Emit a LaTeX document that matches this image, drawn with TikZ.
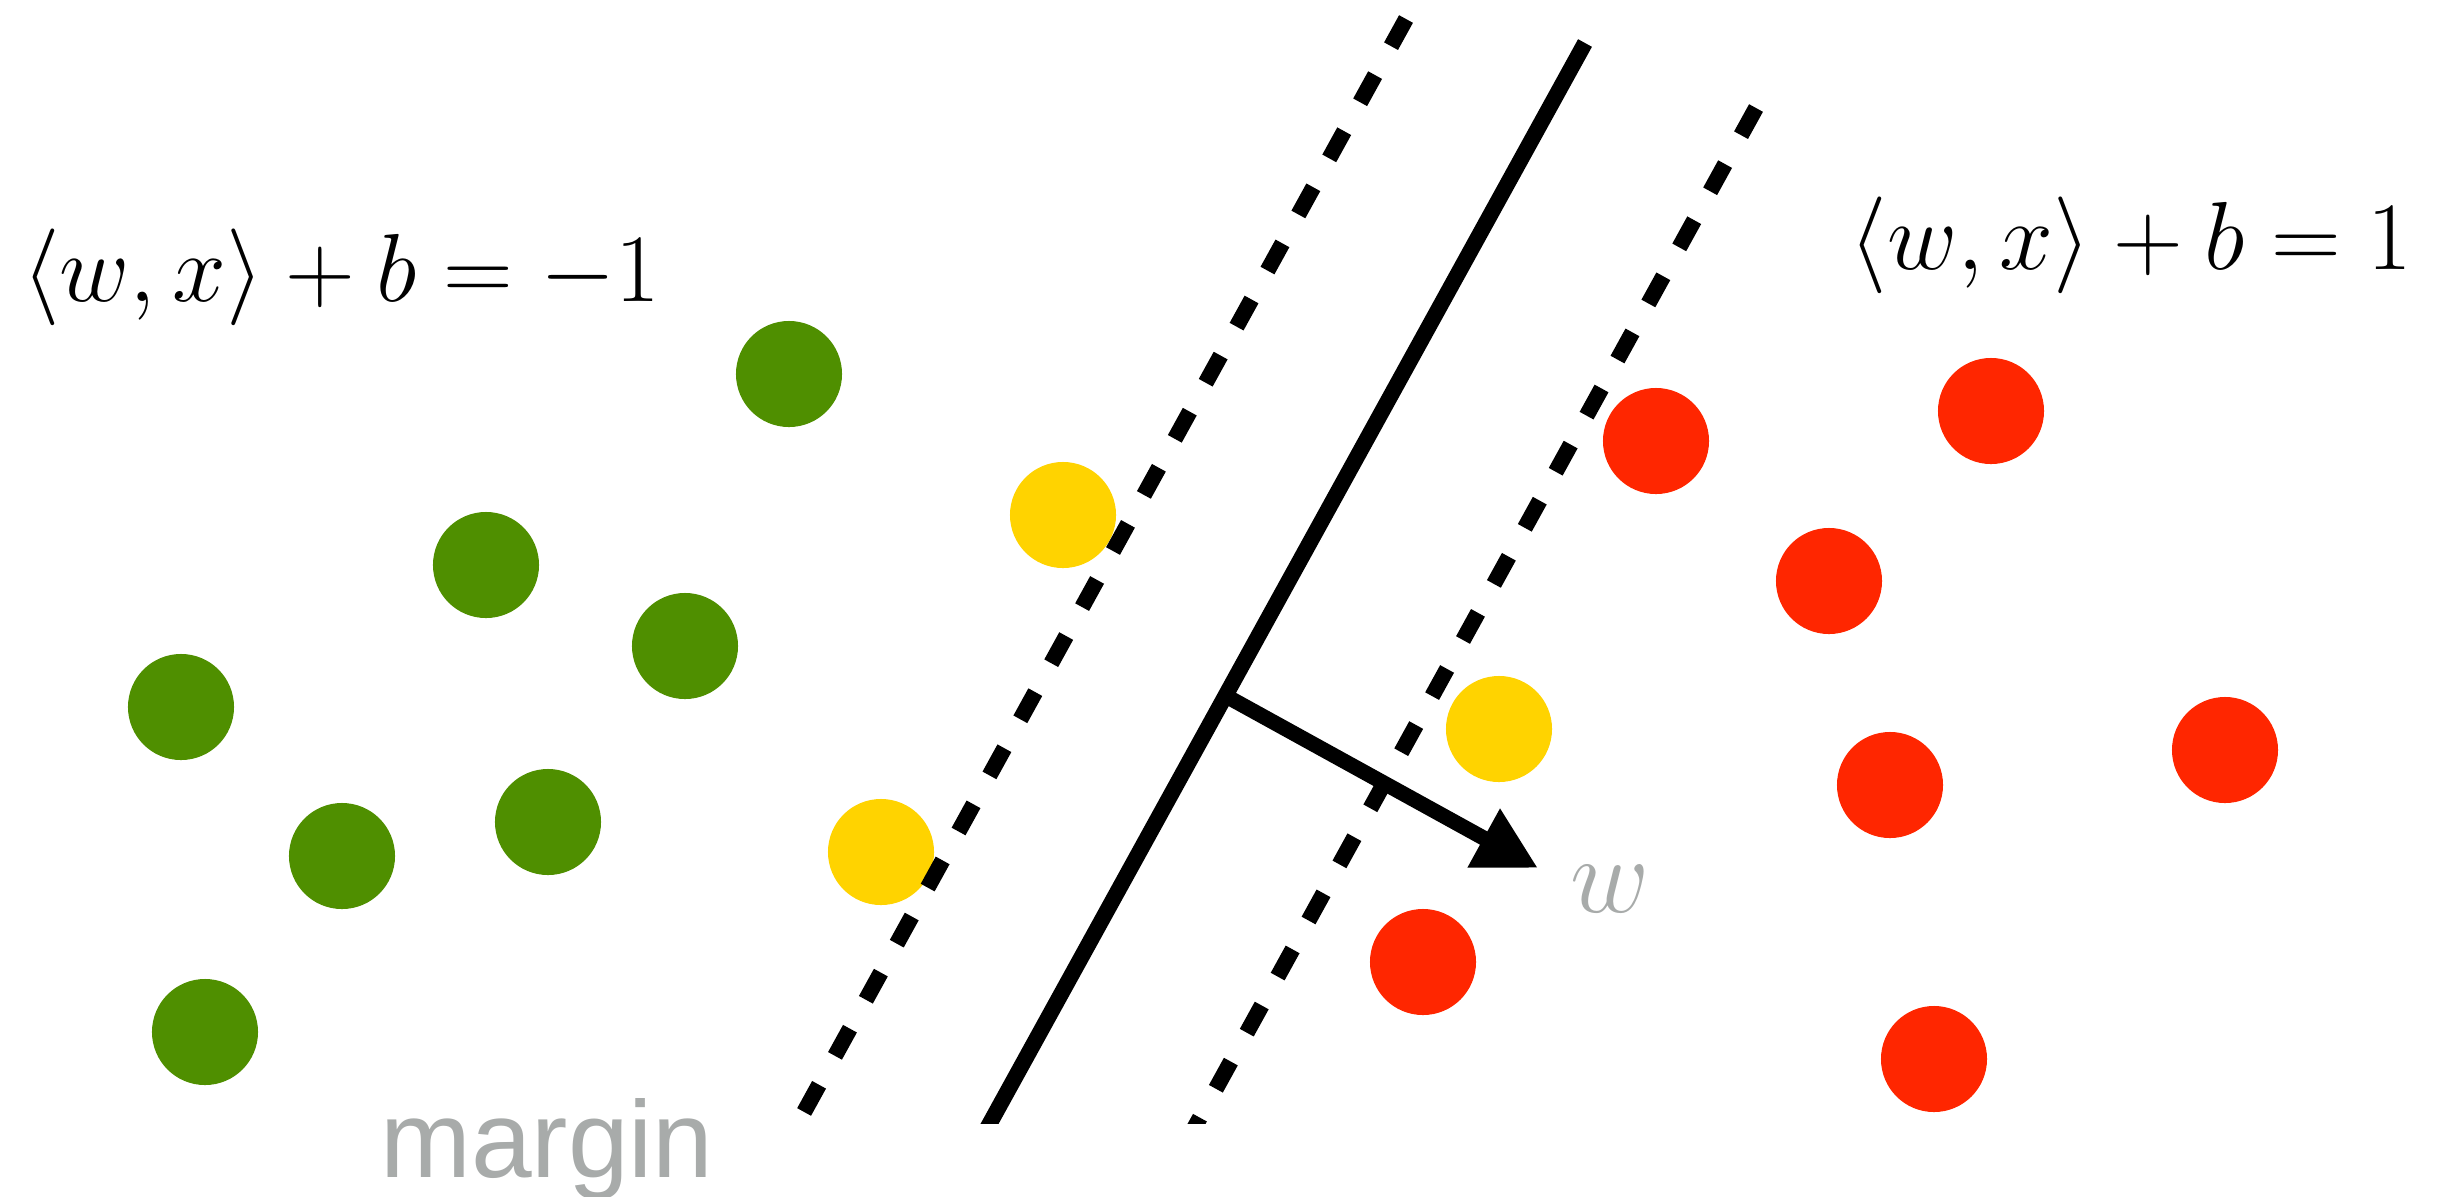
\documentclass[tikz,border=0pt]{standalone}
\usepackage{fix-cm}
\usepackage{fontspec}
\usepackage{xcolor}
\usepackage{tikz}
\usetikzlibrary{arrows.meta}
\newfontfamily\labelfont{Liberation Sans}
\definecolor{clover}{HTML}{4F8F00}
\definecolor{lemon}{HTML}{FFD300}
\definecolor{cherry}{HTML}{FF2600}
\definecolor{steel}{HTML}{A8ABAA}

\begin{document}
\begin{tikzpicture}[x=0.01cm, y=-0.01cm,
    sample/.style={radius=0.53cm},
    boundary/.style={line width=4.5pt},
    margline/.style={line width=4.5pt, dash pattern=on 0.31cm off 0.33cm}]
  \useasboundingbox (0,0) rectangle (2441,1196);
  % the two classes and the points on the margin
  \foreach \px/\py in {789/374, 486/565, 685/646, 181/707, 342/856, 548/822, 205/1032}
    \fill[clover, sample] (\px,\py) circle;
  \foreach \px/\py in {1063/515, 1499/729, 881/852}
    \fill[lemon, sample] (\px,\py) circle;
  \foreach \px/\py in {1656/441, 1991/411, 1829/581, 2225/750, 1890/785, 1423/962, 1934/1059}
    \fill[cherry, sample] (\px,\py) circle;
  % separating line and margins
  \begin{scope}
    \clip (0,0) rectangle (2441,1123);
    \draw[boundary] (1585,43) -- (979,1143);
    \draw[margline] (1406,19) -- (787,1143);
    \draw[margline] (1756,108) -- (1186,1143);
  \end{scope}
  \coordinate (foot) at (1226,696);
  \coordinate (tip) at (1538,868);
  \draw[line width=4.3pt, -{Triangle[length=0.62cm, width=0.63cm]}] (foot) -- (tip);
  \node[anchor=base, font=\fontsize{27.5}{33}\selectfont] (lefteq) at (341,301)
    {$\langle w,x\rangle+b=-1$};
  \node[anchor=base, font=\fontsize{27.5}{33}\selectfont] (righteq) at (2131,269)
    {$\langle w,x\rangle+b=1$};
  \node[anchor=base, text=steel, font=\fontsize{31}{36}\selectfont] (wlabel) at (1610,912) {$w$};
  \node[anchor=base, text=steel, font=\labelfont\fontsize{31}{36}\selectfont] (marginlabel)
    at (547,1177) {margin};
\end{tikzpicture}
\end{document}
